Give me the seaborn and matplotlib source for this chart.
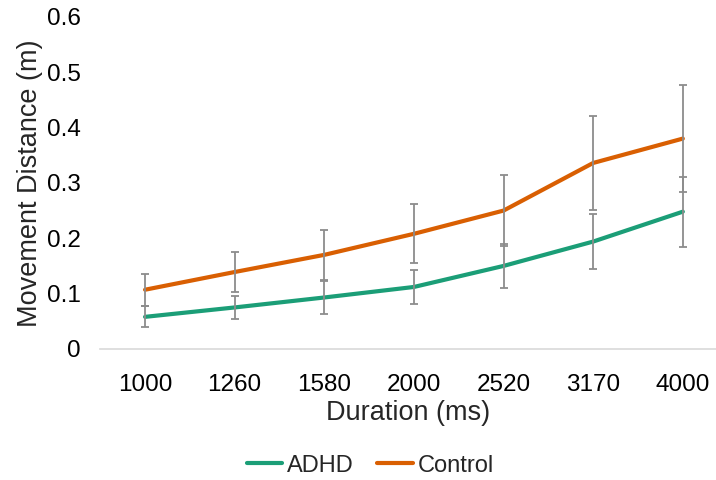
import pandas as pd
import numpy as np

import matplotlib
matplotlib.use("Agg")
import matplotlib.pyplot as plt
import seaborn as sns

# ==========================================
# DATA
# ==========================================

durations = ["1000", "1260", "1580", "2000", "2520", "3170", "4000"]

adhd_mean = [0.058, 0.075, 0.093, 0.112, 0.150, 0.194, 0.248]
adhd_err = [0.019, 0.020, 0.029, 0.031, 0.040, 0.049, 0.063]

control_mean = [0.107, 0.139, 0.170, 0.208, 0.250, 0.336, 0.380]
control_err = [0.029, 0.036, 0.045, 0.053, 0.064, 0.085, 0.096]

groups = ["ADHD", "Control"]
colors = {"ADHD": "#1b9e77", "Control": "#d95f02"}

df = pd.DataFrame({
    "Duration": durations * 2,
    "Distance": adhd_mean + control_mean,
    "Err": adhd_err + control_err,
    "Group": ["ADHD"] * len(durations) + ["Control"] * len(durations),
})

# ==========================================
# PLOT
# ==========================================

sns.set_theme(style="white")
plt.rcParams["font.family"] = ["Liberation Sans", "DejaVu Sans"]

fig = plt.figure(figsize=(7.16, 4.8), dpi=100)
ax = fig.add_axes([0.14, 0.273, 0.86, 0.692])

sns.lineplot(
    data=df,
    x="Duration",
    y="Distance",
    hue="Group",
    hue_order=groups,
    palette=colors,
    linewidth=3,
    sort=False,
    errorbar=None,
    ax=ax
)

# error bars
for g in groups:
    sub = df[df["Group"] == g]
    ax.errorbar(
        sub["Duration"],
        sub["Distance"],
        yerr=sub["Err"],
        fmt="none",
        ecolor="#8c8c8c",
        elinewidth=1.3,
        capsize=3,
        capthick=1.3,
        zorder=3
    )

ax.set_ylim(0, 0.6)
ax.set_xlim(-0.5, 6.37)
ax.set_yticks([0, 0.1, 0.2, 0.3, 0.4, 0.5, 0.6])
ax.set_yticklabels(["0", "0.1", "0.2", "0.3", "0.4", "0.5", "0.6"])

ax.tick_params(axis="both", length=0, labelsize=17.5, colors="#000000")
ax.tick_params(axis="x", pad=18)
ax.tick_params(axis="y", pad=14)

ax.set_xlabel("Duration (ms)", fontsize=19.5, labelpad=3)
ax.set_ylabel("Movement Distance (m)", fontsize=19.5, labelpad=3)

for s in ["top", "right", "left"]:
    ax.spines[s].set_visible(False)
ax.spines["bottom"].set_color("#d9d9d9")
ax.spines["bottom"].set_linewidth(1.2)

ax.legend(
    loc="center",
    bbox_to_anchor=(0.517, 0.03),
    bbox_transform=fig.transFigure,
    ncol=2,
    frameon=False,
    fontsize=17,
    handlelength=1.5,
    handletextpad=0.2,
    columnspacing=1.0
)

fig.savefig("out.png", dpi=100)
